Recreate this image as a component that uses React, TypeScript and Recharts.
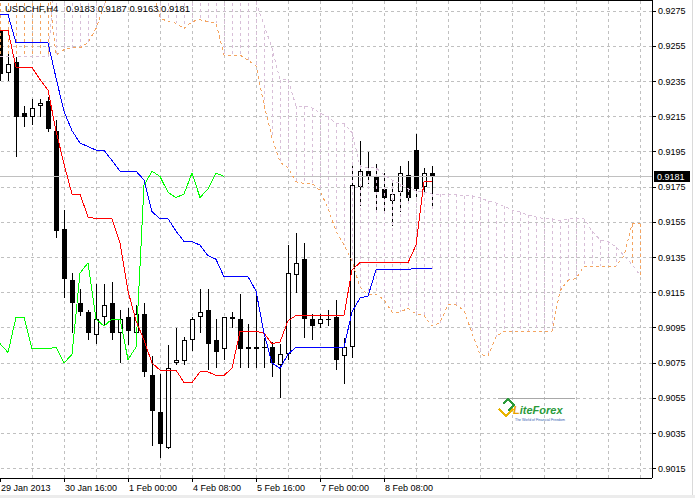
import React from 'react'
import { ComposedChart, Bar, Line, XAxis, YAxis, ReferenceLine } from 'recharts'

// USDCHF, H4 — 29 Jan .. 8 Feb 2013, Ichimoku (9/26/52) on top of candles.
// Bar index i sits 8px apart; cloud runs 26 bars past the last candle.

const FONT = '"Liberation Sans", Arial, sans-serif'
const SANDY = '#F4A460'
const THISTLE = '#D8BFD8'
const GRID = '#C0C0C0'

const opens = [
  0.9264, 0.9240, 0.9246, 0.9217, 0.9215, 0.9221, 0.9224, 0.9207, 0.9151, 0.9122,
  0.9109, 0.9104, 0.9091, 0.9101, 0.9109, 0.9092, 0.9101, 0.9092, 0.9103, 0.9068,
  0.9047, 0.9027, 0.9075, 0.9076, 0.9088, 0.9101, 0.9105, 0.9088, 0.9083, 0.9100,
  0.9100, 0.9084, 0.9084, 0.9084, 0.9084, 0.9074, 0.9080, 0.9125, 0.9134, 0.9100,
  0.9097, 0.9100, 0.9101, 0.9079, 0.9084, 0.9175, 0.9184, 0.9181, 0.9174, 0.9167,
  0.9172, 0.9182, 0.9196, 0.9175, 0.9183,
]
const highs = [
  0.9266, 0.9251, 0.9249, 0.9221, 0.9225, 0.9225, 0.9226, 0.9213, 0.9162, 0.9126,
  0.9117, 0.9105, 0.9120, 0.9120, 0.9121, 0.9105, 0.9106, 0.9108, 0.9109, 0.9079,
  0.9069, 0.9085, 0.9095, 0.9090, 0.9101, 0.9117, 0.9117, 0.9100, 0.9101, 0.9104,
  0.9114, 0.9097, 0.9114, 0.9089, 0.9087, 0.9086, 0.9142, 0.9149, 0.9143, 0.9103,
  0.9103, 0.9105, 0.9111, 0.9089, 0.9187, 0.9201, 0.9195, 0.9188, 0.9183, 0.9179,
  0.9187, 0.9190, 0.9205, 0.9186, 0.9187,
]
const lows = [
  0.9235, 0.9235, 0.9192, 0.9209, 0.9210, 0.9215, 0.9206, 0.9146, 0.9112, 0.9092,
  0.9102, 0.9088, 0.9086, 0.9096, 0.9088, 0.9075, 0.9085, 0.9088, 0.9067, 0.9028,
  0.9021, 0.9026, 0.9074, 0.9074, 0.9082, 0.9092, 0.9071, 0.9072, 0.9077, 0.9095,
  0.9072, 0.9072, 0.9072, 0.9072, 0.9067, 0.9055, 0.9077, 0.9115, 0.9089, 0.9088,
  0.9095, 0.9096, 0.9071, 0.9063, 0.9078, 0.9164, 0.9177, 0.9162, 0.9161, 0.9153,
  0.9161, 0.9167, 0.9169, 0.9171, 0.9163,
]
const closes = [
  0.9239, 0.9245, 0.9215, 0.9215, 0.9220, 0.9223, 0.9208, 0.9150, 0.9123, 0.9109,
  0.9104, 0.9092, 0.9100, 0.9108, 0.9092, 0.9100, 0.9093, 0.9103, 0.9070, 0.9048,
  0.9029, 0.9072, 0.9077, 0.9088, 0.9100, 0.9104, 0.9086, 0.9081, 0.9101, 0.9101,
  0.9083, 0.9083, 0.9083, 0.9084, 0.9075, 0.9080, 0.9126, 0.9132, 0.9100, 0.9096,
  0.9100, 0.9100, 0.9077, 0.9084, 0.9176, 0.9184, 0.9181, 0.9172, 0.9169, 0.9171,
  0.9183, 0.9169, 0.9174, 0.9183, 0.9181,
]

const tenkan = [
  0.9264, 0.9264, 0.9243, 0.9243, 0.9243, 0.9236, 0.9230, 0.9207, 0.9188, 0.9171,
  0.9171, 0.9158, 0.9157, 0.9157, 0.9157, 0.9143, 0.9116, 0.9099, 0.9088, 0.9075,
  0.9071, 0.9071, 0.9071, 0.9064, 0.9064, 0.9070, 0.9070, 0.9068, 0.9068, 0.9072,
  0.9093, 0.9093, 0.9093, 0.9092, 0.9086, 0.9087, 0.9099, 0.9102, 0.9102, 0.9102,
  0.9102, 0.9102, 0.9102, 0.9102, 0.9128, 0.9132, 0.9132, 0.9132, 0.9132, 0.9132,
  0.9132, 0.9132, 0.9142, 0.9178, 0.9178,
]
const kijun = [
  0.9273, 0.9273, 0.9257, 0.9257, 0.9257, 0.9257, 0.9257, 0.9237, 0.9218, 0.9207,
  0.9200, 0.9198, 0.9196, 0.9196, 0.9190, 0.9184, 0.9184, 0.9184, 0.9179, 0.9161,
  0.9157, 0.9157, 0.9150, 0.9144, 0.9144, 0.9142, 0.9136, 0.9134, 0.9124, 0.9124,
  0.9124, 0.9124, 0.9116, 0.9092, 0.9075, 0.9072, 0.9080, 0.9084, 0.9084, 0.9084,
  0.9084, 0.9084, 0.9084, 0.9084, 0.9104, 0.9112, 0.9113, 0.9128, 0.9128, 0.9128,
  0.9128, 0.9128, 0.9129, 0.9129, 0.9129,
]
// lagging span (bars 0..28)
const chikou = [
  0.9086, 0.9081, 0.9101, 0.9101, 0.9083, 0.9083, 0.9083, 0.9084, 0.9075, 0.9080,
  0.9126, 0.9132, 0.9100, 0.9096, 0.9100, 0.9100, 0.9077, 0.9084, 0.9176, 0.9184,
  0.9181, 0.9172, 0.9169, 0.9171, 0.9183, 0.9169, 0.9174, 0.9183, 0.9181,
]
// senkou spans, bars 0..80 (values above 0.928 sit off the top of the window)
const spanA = [
  0.9290, 0.9290, 0.9290, 0.9290, 0.9290, 0.9290, 0.9290, 0.9250, 0.9253, 0.9254,
  0.9254, 0.9257, 0.9265, 0.9278, 0.9290, 0.9290, 0.9290, 0.9290, 0.9290, 0.9290,
  0.9271, 0.9269, 0.9268, 0.9265, 0.9269, 0.9270, 0.9269, 0.9268, 0.9250, 0.9250,
  0.9250, 0.9247, 0.9244, 0.9222, 0.9203, 0.9189, 0.9186, 0.9178, 0.9177, 0.9177,
  0.9173, 0.9163, 0.9150, 0.9142, 0.9133, 0.9118, 0.9114, 0.9114, 0.9111, 0.9104,
  0.9104, 0.9106, 0.9103, 0.9102, 0.9096, 0.9098, 0.9108, 0.9108, 0.9105, 0.9092,
  0.9080, 0.9079, 0.9090, 0.9093, 0.9093, 0.9093, 0.9093, 0.9093, 0.9093, 0.9093,
  0.9116, 0.9122, 0.9123, 0.9130, 0.9130, 0.9130, 0.9130, 0.9130, 0.9136, 0.9154,
  0.9154,
]
const spanB = [
  0.9249, 0.9249, 0.9249, 0.9249, 0.9249, 0.9249, 0.9249, 0.9300, 0.9300, 0.9300,
  0.9300, 0.9300, 0.9300, 0.9300, 0.9300, 0.9300, 0.9300, 0.9300, 0.9300, 0.9300,
  0.9300, 0.9300, 0.9300, 0.9300, 0.9300, 0.9300, 0.9300, 0.9300, 0.9300, 0.9300,
  0.9300, 0.9300, 0.9280, 0.9267, 0.9254, 0.9236, 0.9236, 0.9221, 0.9221, 0.9220,
  0.9217, 0.9215, 0.9211, 0.9211, 0.9206, 0.9187, 0.9186, 0.9186, 0.9182, 0.9179,
  0.9177, 0.9174, 0.9173, 0.9172, 0.9171, 0.9171, 0.9171, 0.9171, 0.9170, 0.9170,
  0.9169, 0.9167, 0.9166, 0.9164, 0.9162, 0.9161, 0.9159, 0.9158, 0.9157, 0.9157,
  0.9156, 0.9157, 0.9157, 0.9157, 0.9150, 0.9145, 0.9144, 0.9141, 0.9136, 0.9131,
  0.9125,
]

const priceTicks = [
  0.9015, 0.9035, 0.9055, 0.9075, 0.9095, 0.9115, 0.9135,
  0.9155, 0.9175, 0.9195, 0.9215, 0.9235, 0.9255, 0.9275,
]
const timeLabels = ['29 Jan 2013', '30 Jan 16:00', '1 Feb 00:00', '4 Feb 08:00', '5 Feb 16:00', '7 Feb 00:00', '8 Feb 08:00']
const labelBars = [0, 8, 16, 24, 32, 40, 48]
const gridBars = [4, 8, 12, 16, 20, 24, 28, 32, 36, 40, 44, 48, 52, 56, 60, 64, 68, 72, 76, 80]
const quote = { open: 0.9183, high: 0.9187, low: 0.9163, close: 0.9181 }

const Y_MIN = 0.90097
const Y_MAX = 0.928125

const rows = spanA.map((a, i) => {
  const b = spanB[i]
  const hasCandle = i < closes.length
  return {
    i,
    range: hasCandle ? [lows[i], highs[i]] : null,
    open: opens[i],
    close: closes[i],
    tenkan: tenkan[i],
    kijun: kijun[i],
    chikou: chikou[i],
    spanA: a,
    spanB: b,
    cloud: [Math.min(a, b), Math.max(a, b)],
    up: a >= b,
  }
})

function Candle(props: any) {
  const { x, y, width, height, payload } = props
  if (!payload || !payload.range || !Number.isFinite(y) || !Number.isFinite(height)) return null
  const [lo, hi] = payload.range
  const k = height / (hi - lo)
  const cx = Math.round(x + width / 2)
  const top = Math.round(y + (hi - Math.max(payload.open, payload.close)) * k)
  const bot = Math.round(y + (hi - Math.min(payload.open, payload.close)) * k)
  const bull = payload.close > payload.open
  return (
    <g>
      <line x1={cx + 0.5} x2={cx + 0.5} y1={y} y2={y + height} stroke="#000" />
      {bull ? (
        <rect x={cx - 1.5} y={top + 0.5} width={4} height={Math.max(bot - top - 1, 1)} fill="#fff" stroke="#000" />
      ) : (
        <rect x={cx - 2} y={top} width={5} height={Math.max(bot - top, 1)} fill="#000" />
      )}
    </g>
  )
}

function Hatch(props: any) {
  const { x, y, width, height, payload } = props
  if (!payload || !Number.isFinite(y) || !Number.isFinite(height)) return null
  const cx = Math.round(x + width / 2) + 0.5
  return (
    <line x1={cx} x2={cx} y1={y} y2={y + height}
      stroke={payload.up ? SANDY : THISTLE} strokeDasharray="3 3" />
  )
}

function TimeTick(props: any) {
  const { x, y, payload } = props
  const idx = labelBars.indexOf(payload.value)
  if (idx < 0) return null
  return (
    <text x={x + 1} y={y} dy="0.71em" textAnchor="start" fontSize={9} fontFamily={FONT} fill="#000">
      {timeLabels[idx]}
    </text>
  )
}

function PriceTag(props: any) {
  const vb = props.viewBox
  if (!vb) return null
  const x = vb.x + vb.width + 2
  const y = vb.y
  return (
    <g>
      <rect x={x} y={y - 5} width={36} height={11} fill="#000" />
      <text x={x + 3} y={y} dy="0.355em" fontSize={9} fontFamily={FONT} fill="#fff">
        {quote.close.toFixed(4)}
      </text>
    </g>
  )
}

export default function App() {
  return (
    <div style={{
      position: 'absolute', left: 0, top: 0, width: 695, height: 498,
      background: '#fff', shapeRendering: 'crispEdges', overflow: 'hidden',
    }}>
      <ComposedChart width={695} height={498} data={rows}
        margin={{ top: 0, right: 0, bottom: 0, left: 0 }}>
        <XAxis xAxisId="t" dataKey="i" type="number" domain={[0, 81.5]} allowDataOverflow
          ticks={labelBars} interval={0} tick={<TimeTick />} height={20}
          tickSize={4} tickMargin={3} axisLine={{ stroke: '#000' }} tickLine={{ stroke: '#000' }} />
        <XAxis xAxisId="cloud" dataKey="i" type="number" domain={[0, 81.5]} allowDataOverflow
          hide height={0} orientation="top" />
        <YAxis yAxisId="p" orientation="right" type="number" domain={[Y_MIN, Y_MAX]} allowDataOverflow
          ticks={priceTicks} interval={0} width={43} tickSize={4} tickMargin={2}
          tickFormatter={(v: number) => v.toFixed(4)}
          tick={{ fontSize: 9, fill: '#000', fontFamily: FONT }}
          axisLine={{ stroke: '#000' }} tickLine={{ stroke: '#000' }} />

        {priceTicks.map(p => (
          <ReferenceLine key={'h' + p} xAxisId="t" yAxisId="p" y={p} stroke={GRID} strokeDasharray="3 3" zIndex={-100} />
        ))}
        {gridBars.map(b => (
          <ReferenceLine key={'v' + b} xAxisId="t" yAxisId="p" x={b} stroke={GRID} strokeDasharray="3 3" zIndex={-100} />
        ))}
        <ReferenceLine xAxisId="t" yAxisId="p" y={quote.close} stroke="#C0C0C0"
          label={(p: any) => <PriceTag {...p} />} />

        <Bar xAxisId="t" yAxisId="p" dataKey="range" barSize={5} shape={<Candle />} isAnimationActive={false} />
        <Bar xAxisId="cloud" yAxisId="p" dataKey="cloud" barSize={1} shape={<Hatch />} isAnimationActive={false} />

        <Line xAxisId="t" yAxisId="p" dataKey="spanA" stroke={SANDY} strokeDasharray="3 3" dot={false} activeDot={false} isAnimationActive={false} />
        <Line xAxisId="t" yAxisId="p" dataKey="spanB" stroke={THISTLE} strokeDasharray="3 3" dot={false} activeDot={false} isAnimationActive={false} />
        <Line xAxisId="t" yAxisId="p" dataKey="chikou" stroke="#00FF00" dot={false} activeDot={false} isAnimationActive={false} />
        <Line xAxisId="t" yAxisId="p" dataKey="tenkan" stroke="#FF0000" dot={false} activeDot={false} isAnimationActive={false} />
        <Line xAxisId="t" yAxisId="p" dataKey="kijun" stroke="#0000FF" dot={false} activeDot={false} isAnimationActive={false} />
      </ComposedChart>

      <svg width={695} height={498} style={{ position: 'absolute', left: 0, top: 0, pointerEvents: 'none' }}>
        <line x1={0} x2={653} y1={0.5} y2={0.5} stroke="#000" />
        <text x={5} y={12} fontSize={9.5} fontFamily={FONT} fill="#000">USDCHF,H4</text>
        <text x={66} y={12} fontSize={9.5} fontFamily={FONT} fill="#000">
          {[quote.open, quote.high, quote.low, quote.close].map(v => v.toFixed(4)).join(' ')}
        </text>
        <line x1={692.5} x2={692.5} y1={0} y2={498} stroke="#DADADA" />
        <rect x={0} y={495} width={695} height={3} fill="#ECECEC" />

        {/* LiteForex watermark */}
        <line x1={498} x2={575} y1={398.5} y2={398.5} stroke="#A8A8A8" />
        <polyline points="499,409 506,416 513,409" fill="none" stroke="#E8B400" strokeWidth={2.5} />
        <polyline points="503,404 508,399 514,405 508,411" fill="none" stroke="#2B9A3A" strokeWidth={2.5} />
        <text x={513} y={414} fontSize={11} fontStyle="italic" fontWeight="bold" fontFamily={FONT}>
          <tspan fill="#E8A000">L</tspan><tspan fill="#2B9A3A">iteForex</tspan>
        </text>
        <text x={515} y={420.5} fontSize={3.5} fontFamily={FONT} fill="#3060B0">The World of Financial Freedom</text>
      </svg>
    </div>
  )
}
